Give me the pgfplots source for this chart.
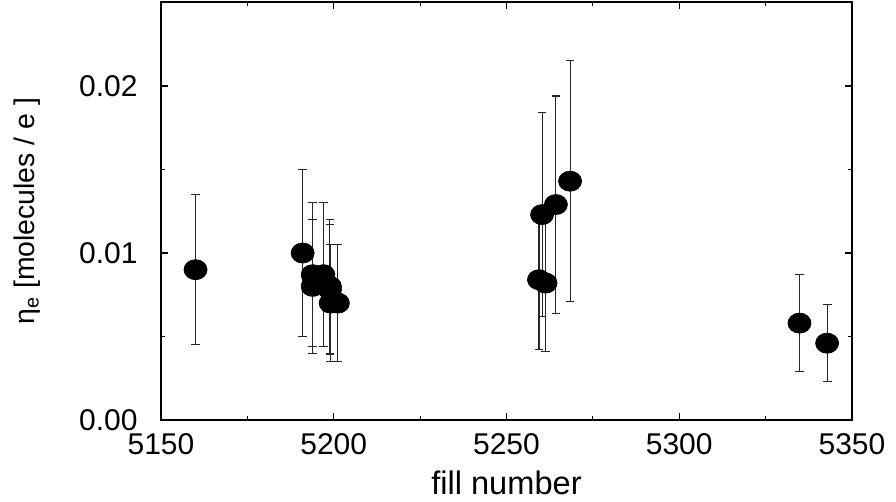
\documentclass[border=0pt]{standalone}
\usepackage{fontspec}
\setmainfont{Liberation Sans}
\usepackage{pgfplots}
\pgfplotsset{compat=1.18}
\usepackage{pgfplotstable}
\pgfplotstableread{
x y err
5160.0 0.0090 0.0045
5191.0 0.0100 0.0050
5193.9 0.0087 0.0043
5193.9 0.0080 0.0040
5197.0 0.0087 0.0043
5198.9 0.0080 0.0040
5198.9 0.0078 0.0039
5199.1 0.0070 0.0035
5201.2 0.0070 0.0035
5259.4 0.0084 0.0042
5260.3 0.0123 0.0061
5261.3 0.0082 0.0041
5264.3 0.0129 0.0065
5268.4 0.0143 0.0072
5334.8 0.0058 0.0029
5342.8 0.0046 0.0023
}\datatable
\begin{document}
\begin{tikzpicture}
\path[use as bounding box] (0,0) rectangle (448pt,251pt);
\begin{axis}[
  at={(80.5pt,41pt)}, anchor=south west,
  scale only axis, width=345.5pt, height=208.75pt,
  xmin=5150, xmax=5350, ymin=0, ymax=0.025,
  xtick={5150,5200,5250,5300,5350},
  minor xtick={5175,5225,5275,5325},
  ytick={0,0.01,0.02},
  minor ytick={0.005,0.015},
  scaled y ticks=false,
  tick align=inside,
  major tick length=3.5pt, minor tick length=2pt,
  tick style={black, line width=0.6pt},
  axis line style={line width=1pt},
  /pgf/number format/assume math mode=true,
  xticklabel style={/pgf/number format/1000 sep={}, anchor=base, yshift=-17.5pt, font=\fontsize{15}{17}\selectfont},
  yticklabel style={/pgf/number format/.cd, fixed, fixed zerofill, precision=2, /tikz/.cd, anchor=east, inner sep=0pt, xshift=-11.5pt, font=\fontsize{15}{17}\selectfont},
  xlabel={fill number},
  xlabel style={at={(axis description cs:0.5,0)}, anchor=base, yshift=-37.5pt, font=\fontsize{16.3}{18}\selectfont},
  ylabel={η\textsubscript{e} [molecules / e ]},
  ylabel style={at={(axis description cs:-0.194,0.5)}, anchor=center, font=\fontsize{14.2}{16}\selectfont},
]
\addplot[only marks, mark=none, black!85,
  error bars/.cd, y dir=both, y explicit,
  error bar style={line width=0.55pt, black!85},
  error mark options={rotate=90, mark size=2.2pt, line width=0.55pt, black!85}]
  table[x=x, y=y, y error=err] {\datatable};
\addplot[only marks, mark=*, mark size=5pt, mark options={xscale=1.15, fill=black, draw=none}]
  table[x=x, y=y] {\datatable};
\end{axis}
\end{tikzpicture}
\end{document}
